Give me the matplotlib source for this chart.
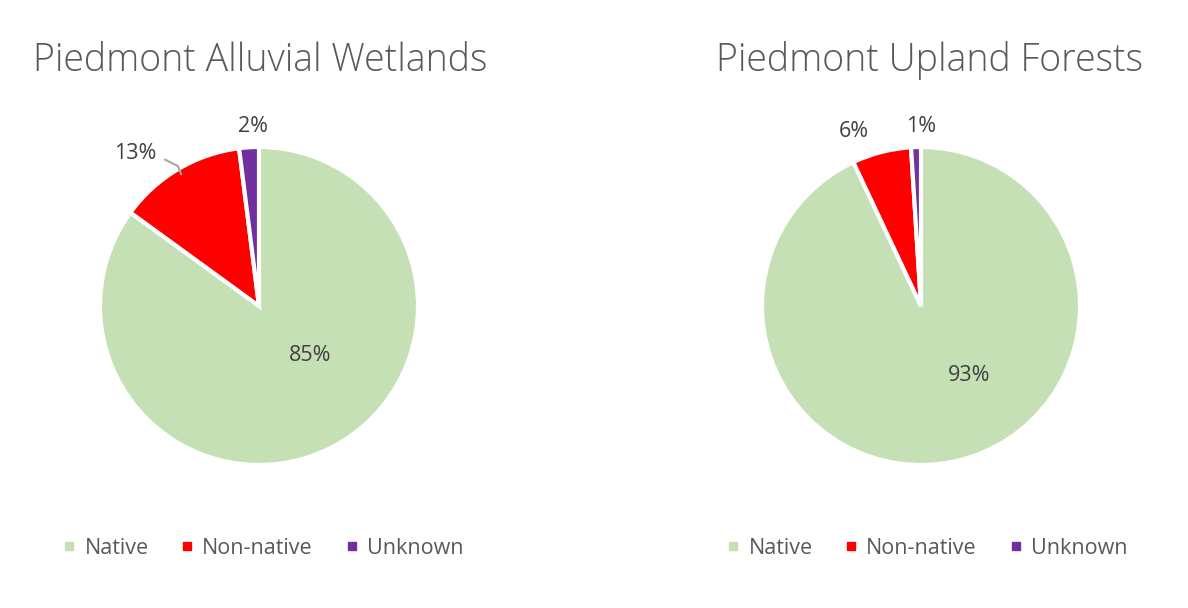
import matplotlib.pyplot as plt
from matplotlib.lines import Line2D

categories = ['Native', 'Non-native', 'Unknown']
colors = ['#C5E0B4', '#FF0000', '#7030A0']

titles = ['Piedmont Alluvial Wetlands', 'Piedmont Upland Forests']
wetlands = [85, 13, 2]
forests = [93, 6, 1]

# label spots in pie radius units (Excel best-fit placement)
label_pos = [
    [(0.32, -0.31), (-0.78, 0.96), (-0.04, 1.13)],
    [(0.30, -0.44), (-0.42, 1.10), (0.0, 1.13)],
]

W, H = 1188, 608
fig = plt.figure(figsize=(W / 100, H / 100), dpi=100)
plt.rcParams['font.family'] = ['Open Sans', 'DejaVu Sans']

centers = [(259, 306), (921, 306)]
title_x = [33, 716]
legend_x = [262, 926]
R = 159
half = 200

for i, vals in enumerate([wetlands, forests]):
    cx, cy = centers[i]
    ax = fig.add_axes([(cx - half) / W, (H - cy - half) / H, 2 * half / W, 2 * half / H])
    ax.pie(vals, colors=colors, startangle=90, counterclock=False,
           wedgeprops=dict(edgecolor='white', linewidth=3))
    lim = half / R
    ax.set_xlim(-lim, lim)
    ax.set_ylim(-lim, lim)
    ax.set_aspect('equal')
    ax.axis('off')
    for v, (lx, ly) in zip(vals, label_pos[i]):
        ax.text(lx, ly, f'{v}%', ha='center', va='center', fontsize=15.5, color='#404040')
    if i == 0:
        # leader line for the 13% label
        ax.plot([-0.59, -0.51, -0.49], [0.92, 0.88, 0.83], color='#A6A6A6', lw=1.5)

    fig.text(title_x[i] / W, 1 - 61 / H, titles[i], ha='left', va='center',
             fontsize=27, color='#595959', fontweight='light')

    handles = [Line2D([], [], marker='s', linestyle='none', markersize=6,
                      markerfacecolor=c, markeredgecolor=c) for c in colors]
    fig.legend(handles, categories, loc='center', ncol=3, frameon=False,
               bbox_to_anchor=(legend_x[i] / W, 1 - 548 / H), fontsize=15.5,
               labelcolor='#595959', handletextpad=0.3, columnspacing=1.4,
               handlelength=0.8)

fig.savefig('out.png', dpi=100, facecolor='white')
